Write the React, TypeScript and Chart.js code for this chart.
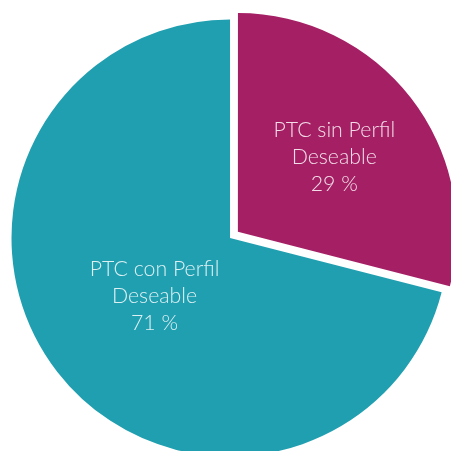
import React, { useEffect, useRef } from "react";
import { Chart, registerables } from "chart.js";

Chart.register(...registerables);

const categories = ["PTC sin Perfil Deseable", "PTC con Perfil Deseable"];
const labelLines = [
  ["PTC sin Perfil", "Deseable"],
  ["PTC con Perfil", "Deseable"],
];
const values = [29, 71];
const colors = ["#A51F65", "#209FB0"];
const offsets = [40, 0];

const LABEL_RADIUS_FRACTION = [0.558, 0.437];

const labelPlugin = {
  id: "sliceLabels",
  afterDatasetsDraw(chart: any) {
    const ctx = chart.ctx as CanvasRenderingContext2D;
    const meta = chart.getDatasetMeta(0);
    meta.data.forEach((arc: any, i: number) => {
      const { x, y, startAngle, endAngle, outerRadius } = arc.getProps(
        ["x", "y", "startAngle", "endAngle", "outerRadius"],
        true
      );
      const mid = (startAngle + endAngle) / 2;
      // Chart.js translates an arc by offset / 4
      const d = offsets[i] / 4 + LABEL_RADIUS_FRACTION[i] * outerRadius;
      const cx = x + Math.cos(mid) * d;
      const cy = y + Math.sin(mid) * d;
      const lines = [...labelLines[i], `${values[i]} %`];
      ctx.save();
      ctx.font = "300 21.3px Lato";
      ctx.fillStyle = "rgba(255,255,255,0.85)";
      ctx.textAlign = "center";
      ctx.textBaseline = "middle";
      lines.forEach((t, j) => ctx.fillText(t, cx, cy + (j - 1) * 27));
      ctx.restore();
    });
  },
};

export default function App() {
  const ref = useRef<HTMLCanvasElement | null>(null);
  useEffect(() => {
    if (!ref.current) return;
    const chart = new Chart(ref.current, {
      type: "pie",
      data: {
        labels: categories,
        datasets: [
          {
            data: values,
            backgroundColor: colors,
            borderWidth: 0,
            offset: offsets,
            radius: 218.5,
          } as any,
        ],
      },
      options: {
        responsive: false,
        animation: false,
        layout: { padding: { left: 9, top: 25, right: 0, bottom: 0 } },
        plugins: {
          legend: { display: false },
          tooltip: { enabled: false },
        },
      },
      plugins: [labelPlugin],
    });
    return () => chart.destroy();
  }, []);
  return (
    <div style={{ position: "absolute", left: 0, top: 0, width: 451, height: 451 }}>
      <canvas ref={ref} width={451} height={451} />
    </div>
  );
}
